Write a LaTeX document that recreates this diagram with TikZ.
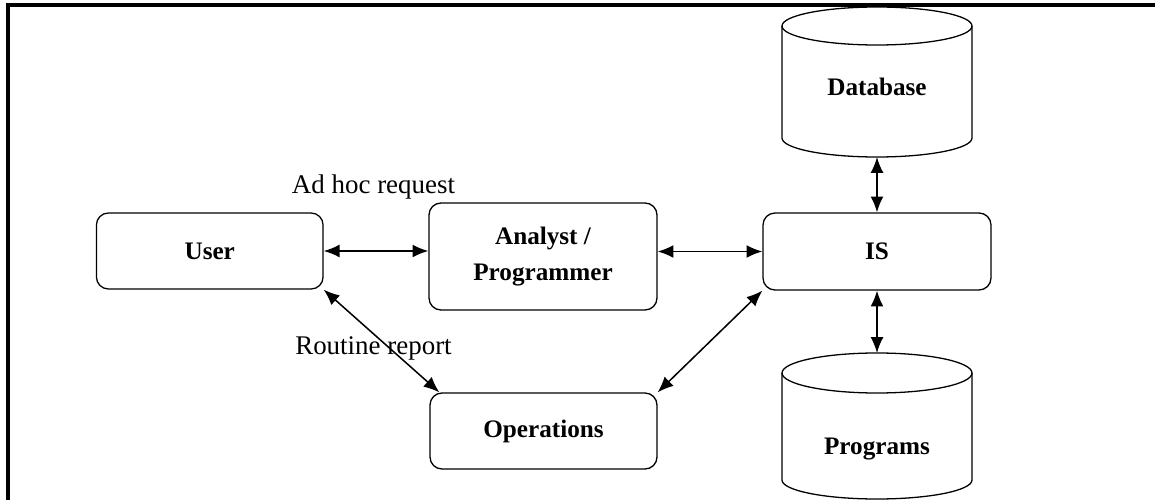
\documentclass[tikz,border=0pt]{standalone}
\usepackage{fontspec}
\setmainfont{Liberation Serif}
\usetikzlibrary{arrows.meta}
\begin{document}
\begin{tikzpicture}[x=.3mm,y=.3mm,
box/.style={draw,rounded corners=3.6mm,line width=1.1pt,inner sep=0pt,align=center,font=\fontsize{21.5}{30}\selectfont\bfseries},
drum/.style={line width=1.1pt},
drumtext/.style={font=\fontsize{21.5}{26}\selectfont\bfseries},
link/.style={{Latex[length=13.5pt,width=11pt]}-{Latex[length=13.5pt,width=11pt]},line width=1.3pt},
note/.style={font=\fontsize{23}{27}\selectfont,anchor=base}]
\clip (0,0) rectangle (1155,-500);
\draw[line width=2.8pt] (1155,-5) -- (8,-5) -- (8,-500);
\node[box,minimum width=6.8cm,minimum height=2.28cm] (user) at (209.75,-251) {User};
\node[box,minimum width=6.84cm,minimum height=3.21cm] (analyst) at (543,-256.5) {Analyst /\\Programmer};
\node[box,minimum width=6.84cm,minimum height=2.31cm] (is) at (877,-251.5) {IS};
\node[box,minimum width=6.81cm,minimum height=2.28cm] (ops) at (543.5,-431) {Operations};
\draw[drum] (782,-26) -- (782,-138) arc[start angle=180,end angle=360,x radius=95,y radius=19] -- (972,-26);
\draw[drum] (877,-26) ellipse[x radius=95,y radius=19];
\node[drumtext] (db) at (877,-87) {Database};
\coordinate (dbfoot) at (877,-157);
\draw[drum] (782,-373) -- (782,-480) arc[start angle=180,end angle=360,x radius=95,y radius=19] -- (972,-373);
\draw[drum] (877,-373) ellipse[x radius=95,y radius=20];
\node[drumtext] (prg) at (877,-449) {Programs};
\coordinate (prghead) at (877,-353);
\draw[link] (user.east) -- (user.east -| analyst.west);
\draw[link] (analyst.east |- is.west) -- (is.west);
\draw[link] (dbfoot) -- (is.north);
\draw[link] (is.south) -- (prghead);
\draw[link] (user.south east) -- ([xshift=3mm]ops.north west);
\draw[link] (is.south west) -- (ops.north east);
\node[note] (adhoc) at (373.5,-194) {Ad hoc request};
\node[note] (routine) at (373.5,-355) {Routine report};
\end{tikzpicture}
\end{document}
